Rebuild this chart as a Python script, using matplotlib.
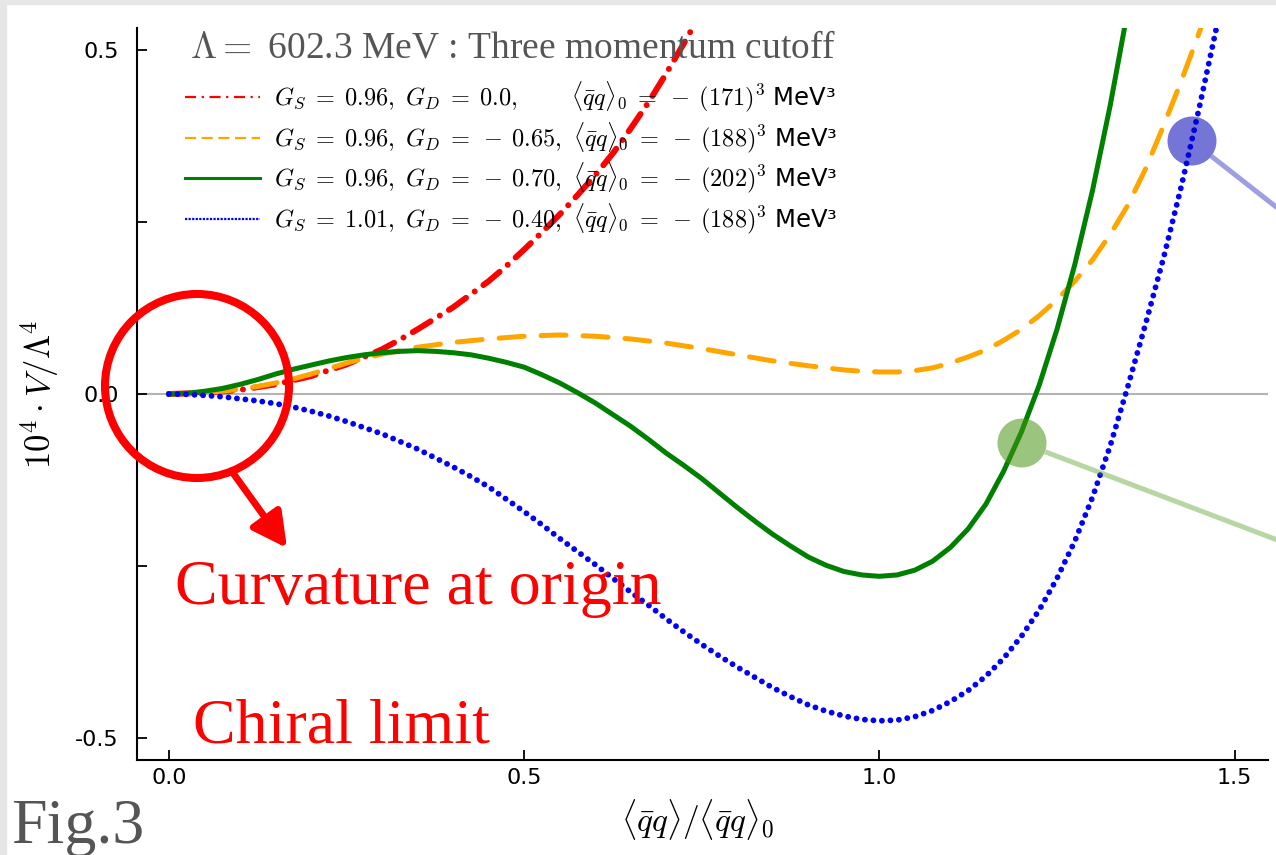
import matplotlib
matplotlib.use("Agg")
import matplotlib.pyplot as plt
from matplotlib.lines import Line2D
from matplotlib.patches import Ellipse, Rectangle, FancyArrowPatch

plt.rcParams['mathtext.fontset'] = 'cm'
plt.rcParams['font.family'] = ['DejaVu Sans']

# <qq>/<qq>_0 on the x axis, 10^4 V / Lambda^4 on the y axis
x_red = [0.0, 0.05, 0.1, 0.15, 0.2, 0.25, 0.3, 0.325, 0.35, 0.375, 0.4,
         0.425, 0.45, 0.475, 0.5, 0.525, 0.55, 0.575, 0.6, 0.625, 0.65,
         0.675, 0.7, 0.725, 0.75, 0.78]
v_red = [0.0, 0.0015, 0.006, 0.014, 0.026, 0.043, 0.065, 0.079, 0.094,
         0.110, 0.126, 0.145, 0.164, 0.186, 0.210, 0.235, 0.261, 0.289,
         0.318, 0.350, 0.386, 0.424, 0.466, 0.510, 0.556, 0.61]

x_orange = [0.0, 0.025, 0.05, 0.075, 0.1, 0.125, 0.15, 0.175, 0.2, 0.225,
            0.25, 0.275, 0.3, 0.35, 0.4, 0.45, 0.5, 0.55, 0.6, 0.65, 0.7,
            0.75, 0.8, 0.85, 0.9, 0.95, 0.975, 1.0, 1.025, 1.05, 1.075, 1.1,
            1.125, 1.15, 1.175, 1.2, 1.225, 1.25, 1.275, 1.3, 1.325, 1.35,
            1.375, 1.4, 1.425, 1.45, 1.47]
v_orange = [0.0, 0.0004, 0.0015, 0.004, 0.007, 0.011, 0.016, 0.022, 0.029,
            0.037, 0.045, 0.052, 0.058, 0.068, 0.075, 0.080, 0.084, 0.0858,
            0.084, 0.080, 0.074, 0.066, 0.057, 0.048, 0.041, 0.035, 0.033,
            0.032, 0.032, 0.034, 0.038, 0.045, 0.054, 0.064, 0.078, 0.094,
            0.114, 0.137, 0.164, 0.195, 0.232, 0.275, 0.328, 0.39, 0.455,
            0.525, 0.58]

x_green = [0.0, 0.025, 0.05, 0.075, 0.1, 0.125, 0.15, 0.175, 0.2, 0.225,
           0.25, 0.275, 0.3, 0.325, 0.35, 0.375, 0.4, 0.425, 0.45, 0.475,
           0.5, 0.525, 0.55, 0.575, 0.6, 0.625, 0.65, 0.675, 0.7, 0.725,
           0.75, 0.775, 0.8, 0.825, 0.85, 0.875, 0.9, 0.925, 0.95, 0.975,
           1.0, 1.025, 1.05, 1.075, 1.1, 1.125, 1.15, 1.175, 1.2, 1.225,
           1.25, 1.275, 1.3, 1.325, 1.35]
v_green = [0.0, 0.001, 0.004, 0.008, 0.014, 0.021, 0.029, 0.036, 0.042,
           0.048, 0.053, 0.057, 0.060, 0.062, 0.063, 0.062, 0.060, 0.057,
           0.052, 0.046, 0.039, 0.028, 0.016, 0.002, -0.013, -0.030, -0.047,
           -0.066, -0.086, -0.104, -0.123, -0.144, -0.165, -0.185, -0.204,
           -0.221, -0.237, -0.249, -0.258, -0.263, -0.265, -0.263, -0.256,
           -0.243, -0.223, -0.196, -0.160, -0.112, -0.055, 0.013, 0.094,
           0.188, 0.296, 0.42, 0.56]

x_blue = [0.0, 0.025, 0.05, 0.075, 0.1, 0.125, 0.15, 0.175, 0.2, 0.225,
          0.25, 0.275, 0.3, 0.325, 0.35, 0.375, 0.4, 0.425, 0.45, 0.475,
          0.5, 0.525, 0.55, 0.575, 0.6, 0.625, 0.65, 0.675, 0.7, 0.725,
          0.75, 0.775, 0.8, 0.825, 0.85, 0.875, 0.9, 0.925, 0.95, 0.975,
          1.0, 1.025, 1.05, 1.075, 1.1, 1.125, 1.15, 1.175, 1.2, 1.225,
          1.25, 1.275, 1.3, 1.325, 1.35, 1.375, 1.4, 1.425, 1.45, 1.475,
          1.49]
v_blue = [0.0, -0.0005, -0.002, -0.004, -0.007, -0.010, -0.014, -0.019,
          -0.025, -0.032, -0.040, -0.049, -0.058, -0.069, -0.080, -0.093,
          -0.106, -0.120, -0.135, -0.153, -0.171, -0.190, -0.210, -0.229,
          -0.248, -0.268, -0.288, -0.307, -0.327, -0.346, -0.364, -0.381,
          -0.397, -0.412, -0.427, -0.440, -0.452, -0.461, -0.468, -0.473,
          -0.475, -0.474, -0.469, -0.460, -0.447, -0.431, -0.410, -0.384,
          -0.352, -0.314, -0.268, -0.214, -0.150, -0.075, 0.012, 0.103,
          0.198, 0.302, 0.415, 0.535, 0.61]

labels = [
    r'$G_S\;=\;0.96,\ G_D\;=\;0.0,\qquad\ \langle\bar{q}q\rangle_0\;=\;-\:(171)^3$ MeV³',
    r'$G_S\;=\;0.96,\ G_D\;=\;-\:0.65,\ \langle\bar{q}q\rangle_0\;=\;-\:(188)^3$ MeV³',
    r'$G_S\;=\;0.96,\ G_D\;=\;-\:0.70,\ \langle\bar{q}q\rangle_0\;=\;-\:(202)^3$ MeV³',
    r'$G_S\;=\;1.01,\ G_D\;=\;-\:0.40,\ \langle\bar{q}q\rangle_0\;=\;-\:(188)^3$ MeV³',
]

W, H = 1276, 855
fig = plt.figure(figsize=(W / 100, H / 100), dpi=100)


def fx(px):
    return px / W


def fy(py):
    return 1 - py / H


# light grey frame along the left and top edges
fig.patches.append(Rectangle((0, 0), fx(6), 1, transform=fig.transFigure,
                             color='#e6e6e6', zorder=0))
fig.patches.append(Rectangle((0, fy(4)), 1, 4 / H, transform=fig.transFigure,
                             color='#e6e6e6', zorder=0))

ax = fig.add_axes([fx(137), fy(760), (1268 - 137) / W, (760 - 28) / H])

ax.axhline(0, color='#b4b4b4', lw=1.5, zorder=1)
ax.plot(x_red, v_red, color='red', lw=4.3, dashes=(3.5, 1.8, 0.01, 1.8),
        dash_capstyle='round', zorder=2)
ax.plot(x_orange, v_orange, color='orange', lw=3.6, dashes=(5, 3.4),
        dash_capstyle='round', zorder=3)
ax.plot(x_green, v_green, color='green', lw=3.6, zorder=4)
ax.plot(x_blue, v_blue, color='blue', lw=4.2, dashes=(0.01, 1.45),
        dash_capstyle='round', zorder=5)

ax.set_xlim(-0.045, 1.547)
ax.set_ylim(-0.532, 0.532)
ax.set_xticks([0.0, 0.5, 1.0, 1.5])
ax.set_xticklabels(['0.0', '0.5', '1.0', '1.5'])
ax.set_yticks([-0.5, -0.25, 0.0, 0.25, 0.5])
ax.set_yticklabels(['-0.5', '', '0.0', '', '0.5'])
ax.tick_params(direction='in', length=7, width=1.3, labelsize=16)
ax.tick_params(axis='x', pad=6)
ax.tick_params(axis='y', pad=13)
for side in ['top', 'right']:
    ax.spines[side].set_visible(False)
for side in ['left', 'bottom']:
    ax.spines[side].set_linewidth(1.5)

ax.set_xlabel(r'$\langle\bar{q}q\rangle/\langle\bar{q}q\rangle_0$', fontsize=24)
ax.xaxis.set_label_coords(0.496, -0.05)
ax.set_ylabel(r'$10^4\cdot V/\Lambda^4$', fontsize=25)
ax.yaxis.set_label_coords(-0.067, 0.5)

handles = [
    Line2D([], [], color='red', lw=1.6, dashes=(5, 2.5, 1, 2.5)),
    Line2D([], [], color='orange', lw=1.6, dashes=(5, 2.5)),
    Line2D([], [], color='green', lw=2.2),
    Line2D([], [], color='blue', lw=1.6, dashes=(1, 0.6)),
]
ax.legend(handles, labels, loc='upper left',
          bbox_to_anchor=(fx(185), fy(80)), bbox_transform=fig.transFigure,
          frameon=False, fontsize=17.5, handlelength=3.1, handletextpad=0.55,
          labelspacing=0.26, borderpad=0, borderaxespad=0)

fig.text(fx(190), fy(57), r'$\Lambda =$ 602.3 MeV : Three momentum cutoff',
         fontsize=27, family='Liberation Serif', color='#555555',
         va='baseline')

# callout around the origin
fig.patches.append(Ellipse((fx(197), fy(386)), 2 * 92 / W, 2 * 92 / H,
                           transform=fig.transFigure, fill=False,
                           ec='red', lw=5.8, zorder=6))
fig.patches.append(FancyArrowPatch((fx(233), fy(473)), (fx(287), fy(548)),
                                   transform=fig.transFigure,
                                   arrowstyle='-|>,head_length=0.95,head_width=0.5',
                                   mutation_scale=22, lw=5, color='red',
                                   shrinkA=0, shrinkB=0, zorder=6))
fig.text(fx(175), fy(604), 'Curvature at origin', fontsize=46,
         family='Liberation Serif', color='red', va='baseline')
fig.text(fx(193), fy(742), 'Chiral limit', fontsize=46,
         family='Liberation Serif', color='red', va='baseline')
fig.text(fx(11), fy(843), 'Fig.3', fontsize=46, family='Liberation Serif',
         color='#555555', va='baseline')

# pointer markers on the right side
r = 24.5
for (cx, cy), end, col in [((1022, 443), (1280, 541), '#469212'),
                           ((1192, 141), (1280, 210), '#0000b7')]:
    dx, dy = end[0] - cx, end[1] - cy
    d = (dx ** 2 + dy ** 2) ** 0.5
    sx, sy = cx + r * dx / d, cy + r * dy / d
    fig.lines.append(Line2D([fx(sx), fx(end[0])], [fy(sy), fy(end[1])],
                            transform=fig.transFigure, color=col, lw=3.6,
                            alpha=0.38, solid_capstyle='butt', zorder=6))
    fig.patches.append(Ellipse((fx(cx), fy(cy)), 2 * r / W, 2 * r / H,
                               transform=fig.transFigure, color=col,
                               alpha=0.54, lw=0, zorder=7))

fig.savefig('out.png', dpi=100)
